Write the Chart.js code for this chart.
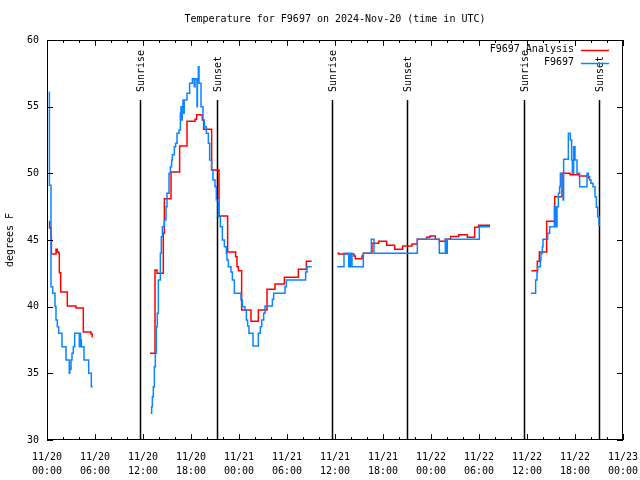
<!DOCTYPE html>
<html lang="en">
<head>
<meta charset="UTF-8">
<title>Temperature for F9697</title>
<script src="https://cdn.jsdelivr.net/npm/chart.js"></script>
<style>
  body { margin: 0; background: #fff; }
</style>
</head>
<body>
<canvas id="grafico" width="640" height="480"></canvas>

<script>
// hours since 2024-11-20 00:00 UTC, null = gap between segments
const f9697Hours = [
  0.29, 0.3, 0.5, 0.71, 1.0, 1.125, 1.29, 1.46, 1.875, 2.375, 2.79, 2.85, 2.9, 3.0, 3.125, 3.29, 3.46, 4.04, 4.125, 4.2, 4.25, 4.3, 4.625, 5.21, 5.54, 5.71,
  9,
  12.96, 13.08, 13.17, 13.29, 13.42, 13.54, 13.67, 13.79, 13.92, 14.17, 14.29, 14.42, 14.67, 14.875, 15.0, 15.25, 15.42, 15.58, 15.67, 15.92, 16.08, 16.25, 16.5, 16.67, 16.75, 16.85, 16.9, 17.0, 17.1, 17.15, 17.5, 17.83, 18.17, 18.4, 18.5, 18.75, 18.8, 18.92, 19.0, 19.25, 19.5, 19.67, 19.92, 20.17, 20.33, 20.58, 20.75, 21.0, 21.17, 21.42, 21.67, 21.92, 22.17, 22.42, 22.5, 22.67, 23.0, 23.17, 23.42, 24.25, 24.42, 24.75, 24.92, 25.08, 25.25, 25.75, 26.42, 26.67, 26.83, 27.08, 27.25, 28.17, 28.33, 29.75, 29.92, 32.33, 32.5, 33.08,
  34.5,
  36.29, 37.125, 37.71, 37.8, 37.875, 38.0, 38.125, 39.54, 40.54, 40.875, 46.29, 49.04, 49.79, 49.9, 50.04, 54.04, 55.375,
  58,
  60.5, 61.08, 61.25, 61.33, 61.67, 61.75, 61.92, 62.0, 62.58, 62.83, 63.42, 63.58, 63.75, 63.92, 64.08, 64.17, 64.33, 64.5, 64.58, 65.17, 65.42, 65.58, 65.67, 65.83, 66.0, 66.25, 66.58, 67.5, 67.67, 67.83, 68.0, 68.25, 68.5, 68.67, 68.83, 69.0, 69.125
];
const f9697Temps = [
  56.1, 49.1, 41.5, 41.0, 40.0, 39.0, 38.5, 38.0, 37.0, 36.0, 35.0, 35.5, 35.3, 36.0, 36.5, 37.0, 38.0, 37.0, 38.0, 37.2, 37.5, 37.0, 36.0, 35.0, 34.0, 34.0,
  null,
  32.0, 32.5, 33.25, 34.0, 35.5, 36.5, 38.5, 39.5, 42.0, 44.0, 45.25, 46.0, 46.5, 47.5, 48.5, 50.0, 50.5, 51.0, 51.4, 52.0, 52.25, 53.0, 53.25, 54.5, 55.0, 54.0, 55.0, 55.5, 54.5, 55.5, 56.0, 56.75, 57.1, 56.5, 57.1, 55.0, 57.0, 58.0, 56.75, 55.0, 54.0, 53.5, 53.0, 52.25, 51.0, 50.25, 49.5, 49.0, 48.0, 46.75, 46.0, 45.0, 44.5, 44.0, 43.5, 43.0, 42.6, 42.0, 41.0, 40.5, 40.0, 39.75, 39.0, 38.55, 38.0, 37.05, 38.0, 38.5, 39.0, 39.5, 40.05, 40.55, 41.0, 41.5, 42.0, 42.6, 43.0, 43.0,
  null,
  43.0, 44.0, 43.0, 44.0, 43.0, 44.0, 43.0, 44.0, 45.05, 44.0, 45.05, 44.0, 45.05, 44.0, 45.05, 46.0, 46.0,
  null,
  41.0, 42.0, 42.6, 43.0, 43.5, 44.0, 44.5, 45.05, 45.5, 46.0, 47.5, 46.0, 47.5, 48.5, 49.0, 50.0, 49.5, 48.0, 51.05, 53.0, 52.5, 51.0, 50.0, 52.0, 51.0, 50.0, 49.0, 50.0, 49.75, 49.5, 49.25, 49.0, 48.25, 47.45, 46.75, 46.1, 46.1
];

const analysisHours = [
  0.29, 0.32, 0.5, 0.55, 1.125, 1.29, 1.46, 1.54, 1.71, 2.54, 3.625, 4.54, 5.5, 5.66, 5.72,
  9,
  12.875, 13.5, 13.75, 14.54, 14.67, 15.5, 16.58, 17.5, 18.5, 18.71, 19.41, 19.58, 20.58, 21.5, 22.58, 23.58, 23.75, 23.92, 24.33, 25.5, 26.42, 27.5, 28.5, 29.67, 31.42, 32.42, 33.08,
  34.5,
  36.29, 36.46, 38.375, 38.54, 39.375, 39.54, 40.625, 41.46, 42.46, 43.46, 44.46, 45.625, 46.29, 47.46, 47.875, 48.54, 49.04, 49.79, 50.46, 51.46, 52.54, 53.46, 53.96, 55.375,
  58,
  60.54, 61.29, 61.54, 62.46, 63.46, 64.375, 65.375, 66.54, 67.67
];
const analysisTemps = [
  46.4, 45.9, 45.25, 43.95, 44.3, 44.1, 44.0, 42.55, 41.1, 40.05, 39.9, 38.1, 37.95, 37.75, 37.75,
  null,
  36.5, 42.75, 42.5, 45.5, 48.1, 50.1, 52.05, 53.9, 54.05, 54.4, 54.0, 53.3, 50.25, 46.8, 44.1, 43.75, 43.0, 42.7, 39.75, 38.9, 39.75, 41.3, 41.7, 42.2, 42.8, 43.4, 43.4,
  null,
  44.0, 43.95, 43.8, 43.6, 43.8, 44.0, 44.75, 44.9, 44.6, 44.3, 44.55, 44.7, 45.05, 45.2, 45.3, 45.05, 44.9, 45.05, 45.27, 45.4, 45.2, 45.95, 46.1, 46.1,
  null,
  42.7, 43.4, 44.1, 46.4, 48.25, 50.0, 49.9, 49.8, 49.6
];

const xTickHours = [0, 6, 12, 18, 24, 30, 36, 42, 48, 54, 60, 66, 72];
const xTickDates = ['11/20', '11/20', '11/20', '11/20', '11/21', '11/21', '11/21', '11/21', '11/22', '11/22', '11/22', '11/22', '11/23'];
const xTickTimes = ['00:00', '06:00', '12:00', '18:00', '00:00', '06:00', '12:00', '18:00', '00:00', '06:00', '12:00', '18:00', '00:00'];
const yTicks = [30, 35, 40, 45, 50, 55, 60];

const sunHours = [11.625, 21.2, 35.625, 45.0, 59.625, 69.0];
const sunLabels = ['Sunrise', 'Sunset', 'Sunrise', 'Sunset', 'Sunrise', 'Sunset'];

const fonte = 'DejaVu Sans Mono';
Chart.defaults.font.family = fonte;
Chart.defaults.font.size = 10;
Chart.defaults.color = '#000';

function pontos(hours, temps) {
  return hours.map((h, i) => ({ x: h, y: temps[i] }));
}

// gnuplot-like frame: border, inward ticks, title, legend, sunrise/sunset lines
const moldura = {
  id: 'moldura',
  beforeDraw(chart) {
    const c = chart.ctx;
    c.save();
    c.fillStyle = '#fff';
    c.fillRect(0, 0, chart.width, chart.height);
    c.restore();
  },
  beforeDatasetsDraw(chart) {
    const c = chart.ctx, a = chart.chartArea, xs = chart.scales.x;
    c.save();
    c.strokeStyle = '#000';
    c.lineWidth = 1.5;
    sunHours.forEach(h => {
      const px = Math.round(xs.getPixelForValue(h)) + 0.5;
      c.beginPath();
      c.moveTo(px, 100);
      c.lineTo(px, a.bottom);
      c.stroke();
    });
    c.restore();
  },
  afterDraw(chart) {
    const c = chart.ctx, a = chart.chartArea, xs = chart.scales.x, ys = chart.scales.y;
    c.save();
    c.strokeStyle = '#000';
    c.lineWidth = 1;
    c.strokeRect(a.left + 0.5, a.top + 0.5, a.right - a.left - 1, a.bottom - a.top - 1);

    c.beginPath();
    for (let h = 0; h <= 72; h += 2) {
      const px = Math.round(xs.getPixelForValue(h)) + 0.5;
      const len = h % 6 === 0 ? 6 : 3;
      c.moveTo(px, a.bottom); c.lineTo(px, a.bottom - len);
      c.moveTo(px, a.top); c.lineTo(px, a.top + len);
    }
    yTicks.forEach(v => {
      const py = Math.round(ys.getPixelForValue(v)) + 0.5;
      c.moveTo(a.left, py); c.lineTo(a.left + 6, py);
      c.moveTo(a.right, py); c.lineTo(a.right - 6, py);
    });
    c.stroke();

    c.fillStyle = '#000';
    c.font = '10px ' + fonte;
    c.textAlign = 'center';
    c.textBaseline = 'middle';
    c.fillText('Temperature for F9697 on 2024-Nov-20 (time in UTC)', (a.left + a.right) / 2, 19);

    c.save();
    c.translate(10, (a.top + a.bottom) / 2);
    c.rotate(-Math.PI / 2);
    c.fillText('degrees F', 0, 0);
    c.restore();

    sunHours.forEach((h, i) => {
      const px = Math.round(xs.getPixelForValue(h)) + 1;
      c.save();
      c.translate(px, 92);
      c.rotate(-Math.PI / 2);
      c.textAlign = 'left';
      c.fillText(sunLabels[i], 0, 0);
      c.restore();
    });

    // legenda
    const itens = chart.data.datasets;
    itens.forEach((ds, i) => {
      const y = 49.5 + i * 13;
      c.textAlign = 'right';
      c.fillStyle = '#000';
      c.fillText(ds.label, 574, y);
      c.strokeStyle = ds.borderColor;
      c.lineWidth = 1.5;
      c.beginPath();
      c.moveTo(581, Math.round(y) + 0.5);
      c.lineTo(609, Math.round(y) + 0.5);
      c.stroke();
    });
    c.restore();
  }
};

new Chart(document.getElementById('grafico'), {
  type: 'line',
  data: {
    datasets: [
      {
        label: 'F9697 Analysis',
        data: pontos(analysisHours, analysisTemps),
        borderColor: '#ff0000',
        borderWidth: 1.5,
        stepped: 'before',
        pointRadius: 0,
        spanGaps: false,
        order: 2
      },
      {
        label: 'F9697',
        data: pontos(f9697Hours, f9697Temps),
        borderColor: '#0a84ff',
        borderWidth: 1.5,
        stepped: 'before',
        pointRadius: 0,
        spanGaps: false,
        order: 1
      }
    ]
  },
  options: {
    responsive: false,
    animation: false,
    layout: { padding: { top: 40, right: 17, left: 0, bottom: 0 } },
    plugins: { legend: { display: false }, title: { display: false }, tooltip: { enabled: false } },
    scales: {
      x: {
        type: 'linear',
        min: 0,
        max: 72,
        grid: { display: false, drawTicks: false },
        border: { display: false },
        afterBuildTicks: s => { s.ticks = xTickHours.map(v => ({ value: v })); },
        afterFit: s => { s.height = 40; s.paddingLeft = 0; s.paddingRight = 0; },
        ticks: {
          autoSkip: false,
          maxRotation: 0,
          padding: 10,
          font: { size: 10, lineHeight: 1.4 },
          callback: (v) => {
            const i = xTickHours.indexOf(v);
            return [xTickDates[i], xTickTimes[i]];
          }
        }
      },
      y: {
        min: 30,
        max: 60,
        grid: { display: false, drawTicks: false },
        border: { display: false },
        afterBuildTicks: s => { s.ticks = yTicks.map(v => ({ value: v })); },
        afterFit: s => { s.width = 47; s.paddingTop = 0; s.paddingBottom = 0; },
        ticks: { padding: 8, font: { size: 10 } }
      }
    }
  },
  plugins: [moldura]
});
</script>
</body>
</html>
